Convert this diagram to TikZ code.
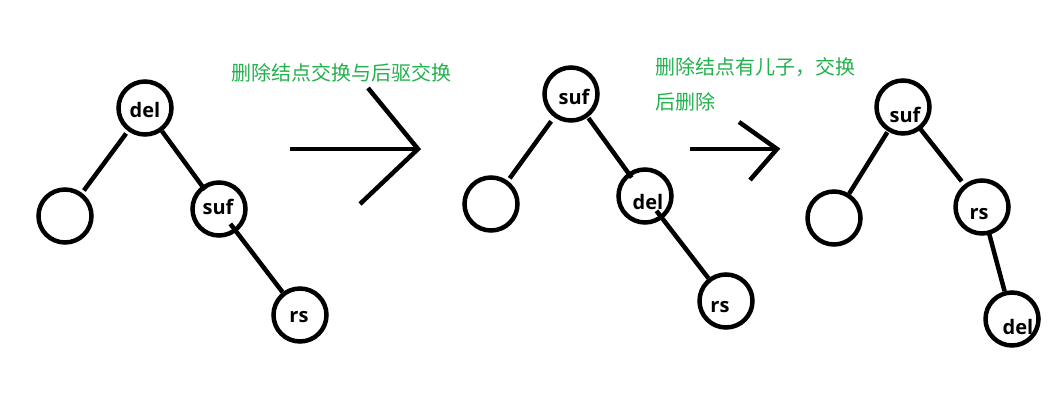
\documentclass[tikz,border=0pt]{standalone}
\usepackage{fontspec}
\setsansfont{Open Sans}
\newfontfamily\cjkfont{Noto Sans CJK SC}
\definecolor{paintgreen}{RGB}{34,177,76}
\tikzset{vertex/.style={draw, circle, line width=4.5pt, minimum size=53pt, inner sep=0pt}}
\tikzset{vlabel/.style={inner sep=0pt, font=\sffamily\bfseries\fontsize{20}{20}\selectfont}}
\tikzset{edge/.style={line width=4.5pt, color=black}}
\tikzset{bigarrow/.style={line width=4.5pt, color=black}}
\tikzset{note/.style={anchor=west, inner sep=0pt, color=paintgreen, font=\cjkfont\fontsize{20}{20}\selectfont}}

\begin{document}
\begin{tikzpicture}[x=1pt, y=-1pt]%{{{
        \useasboundingbox (0, 0) rectangle (1051, 404);

        \node[vertex] (Da) at (145, 108) {};
        \node[vertex] (Ea) at ( 65, 216) {};
        \node[vertex] (Sa) at (219, 209) {};
        \node[vertex] (Ra) at (300, 315) {};
        \node[vlabel] (Ta) at ([shift={(0, 2)}]Da) {del};
        \node[vlabel] (Tb) at ([shift={(-1, -2)}]Sa) {suf};
        \node[vlabel] (Tc) at ([shift={(-1, 2)}]Ra) {rs};

        \draw [edge, shorten <=3pt, shorten >=3pt] (Da) -- (Ea);
        \draw [edge, shorten >=-5pt] (Da) -- (Sa);
        \draw [edge, shorten <=-10pt] (Sa) -- (Ra);

        \node[note] (Na) at (231, 73) {删除结点交换与后驱交换};
        \coordinate (A1s) at (290, 149);
        \coordinate (A1t) at (418, 149);
        \coordinate (A1u) at (368,  88);
        \coordinate (A1l) at (360, 204);
        \draw [bigarrow] (A1s) -- (A1t);
        \draw [bigarrow] (A1u) -- (A1t) -- (A1l);

        \node[vertex] (Sb) at (571,  94) {};
        \node[vertex] (Eb) at (491, 204) {};
        \node[vertex] (Db) at (645, 196) {};
        \node[vertex] (Rb) at (726, 301) {};
        \node[vlabel] (Td) at ([shift={(3, 3)}]Sb) {suf};
        \node[vlabel] (Te) at ([shift={(3, 6)}]Db) {del};
        \node[vlabel] (Tf) at ([shift={(-6, 6)}]Rb) {rs};

        \draw [edge, shorten <=5pt, shorten >=3pt] (Sb) -- (Eb);
        \draw [edge, shorten <=1pt, shorten >=-6pt] (Sb) -- (Db);
        \draw [edge, shorten <=-10pt] (Db) -- (Rb);

        \node[note] (Nb) at (655,  67) {删除结点有儿子，交换};
        \node[note] (Nc) at (655, 102) {后删除};
        \coordinate (A2s) at (690, 149);
        \coordinate (A2t) at (777, 149);
        \coordinate (A2u) at (739, 122);
        \coordinate (A2l) at (750, 180);
        \draw [bigarrow] (A2s) -- (A2t);
        \draw [bigarrow] (A2u) -- (A2t) -- (A2l);

        \node[vertex] (Sc) at ( 903, 107) {};
        \node[vertex] (Ec) at ( 834, 218) {};
        \node[vertex] (Rc) at ( 982, 207) {};
        \node[vertex] (Dc) at (1012, 319) {};
        \node[vlabel] (Tg) at ([shift={(2, 8)}]Sc) {suf};
        \node[vlabel] (Th) at ([shift={(-3, 7)}]Rc) {rs};
        \node[vlabel] (Ti) at ([shift={(6, 8)}]Dc) {del};

        \draw [edge, shorten <=1pt] (Sc) -- (Ec);
        \draw [edge, shorten <=-2pt, shorten >=4pt] (Sc) -- (Rc);
        \draw [edge, shorten <=-3pt] (Rc) -- (Dc);
    \end{tikzpicture}
\end{document}
